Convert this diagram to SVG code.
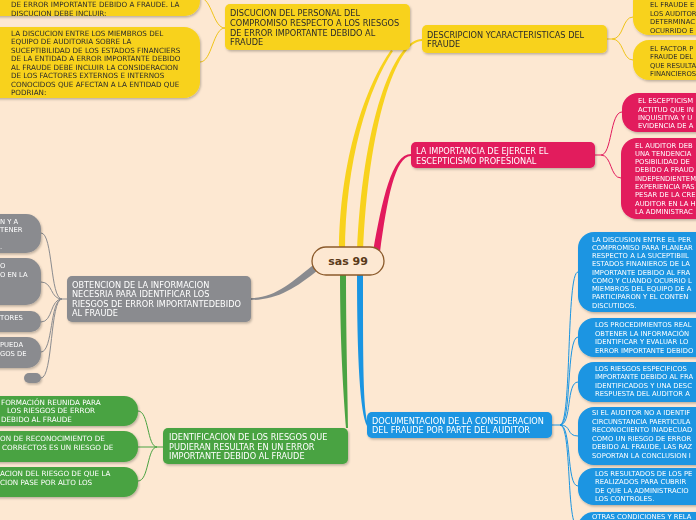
<svg xmlns="http://www.w3.org/2000/svg" width="696" height="520" viewBox="0 0 696 520">
<defs>
<filter id="sh" x="-10%" y="-10%" width="130%" height="140%"><feDropShadow dx="1" dy="1.5" stdDeviation="1" flood-color="#000" flood-opacity="0.25"/></filter>
<style>
text{font-family:"DejaVu Sans","Verdana",sans-serif;}
.m{font-size:8.2px;}
.c{font-size:6.8px;}
.c2{font-size:7.2px;}
.dk{fill:#2b2b2b;}
.wt{fill:#ffffff;}
.y{fill:#f8d21d;}
.p{fill:#e21a5d;}
.g{fill:#8a8b8f;}
.gr{fill:#4aa342;}
.b{fill:#1a95e2;}
.ly{stroke:#f0c419;fill:none;stroke-width:1;}
.lp{stroke:#e21a5d;fill:none;stroke-width:1;}
.lg{stroke:#8a8b8f;fill:none;stroke-width:1;}
.lgr{stroke:#4aa342;fill:none;stroke-width:1;}
.lb{stroke:#1a95e2;fill:none;stroke-width:1;}
</style>
</defs>
<rect width="696" height="520" fill="#fde8d2"/>

<g id="connectors">
<path class="y" d="M339,254 C339,160 366,85 391,50 L393,51 C369,87 345,160 345,254 Z"/>
<path class="y" d="M357,254 C362,125 393,39 422,39 L422,41 C396,41 368,125 363,254 Z"/>
<path class="p" d="M373,252 C382,200 392,154 411,154 L411,156 C395,156 387,200 380,252 Z"/>
<path class="g" d="M317,262 C292,282 275,298 251,298 L251,300 C277,300 296,288 318,270 Z"/>
<path class="gr" d="M340,272 C340,350 344,400 346,428 L348,428 C348,400 346,350 346,272 Z"/>
<path class="b" d="M357,272 C357,360 360,412 367,426 L368,424 C363,410 363,360 363,272 Z"/>
<path class="ly" d="M225,28 C213,28 212,62 200,62"/>
<path class="ly" d="M225,28 C213,28 212,-2 200,-2"/>
<path class="ly" d="M607,39 L612,39 C624,39 622,17 633,17"/>
<path class="ly" d="M612,39 C624,39 622,60 633,60"/>
<path class="lp" d="M595,155 L601,155 C612,155 610,112 622,112"/>
<path class="lp" d="M601,155 C612,155 610,178 621,178"/>
<path class="lg" d="M67,299 L62,299 C50,299 53,233 41,233"/>
<path class="lg" d="M62,299 C50,299 53,282 41,282"/>
<path class="lg" d="M62,299 C50,299 53,322 41,322"/>
<path class="lg" d="M62,299 C50,299 53,352 41,352"/>
<path class="lg" d="M62,299 C50,299 53,378 41,378"/>
<path class="lgr" d="M163,447 L157,447 C147,447 149,411 138,411"/>
<path class="lgr" d="M157,447 L138,447"/>
<path class="lgr" d="M157,447 C147,447 149,481 138,481"/>
<path class="lb" d="M552,425 L560,425 C572,425 566,272 578,272"/>
<path class="lb" d="M560,425 C572,425 566,337 578,337"/>
<path class="lb" d="M560,425 C572,425 566,382 578,382"/>
<path class="lb" d="M560,425 C572,425 566,436 578,436"/>
<path class="lb" d="M560,425 C572,425 566,486 578,486"/>
<path class="lb" d="M560,425 C572,425 566,527 578,527"/>
</g>

<g id="central">
<rect x="312" y="247" width="72" height="28" rx="14" fill="#fde8d2" stroke="#8b5a2b" stroke-width="1.3"/>
<text x="348" y="265" text-anchor="middle" font-size="11" font-weight="bold" fill="#5a3a1a">sas 99</text>
</g>

<g id="n-discucion" filter="url(#sh)">
<rect class="y" x="225" y="4" width="185" height="46" rx="5"/>
<text class="m dk"><tspan x="230" y="16.3">DISCUCION DEL PERSONAL DEL</tspan><tspan x="230" y="26">COMPROMISO RESPECTO A LOS RIESGOS</tspan><tspan x="230" y="35.7">DE ERROR IMPORTANTE DEBIDO AL</tspan><tspan x="230" y="45.3">FRAUDE</tspan></text>
</g>
<g id="n-disc-1" filter="url(#sh)">
<rect class="y" x="-20" y="-20" width="220" height="36" rx="15"/>
<text class="c2 dk"><tspan x="11" y="7">DE ERROR IMPORTANTE DEBIDO A FRAUDE. LA</tspan><tspan x="11" y="15.5">DISCUCION DEBE INCLUIR:</tspan></text>
</g>
<g id="n-disc-2" filter="url(#sh)">
<rect class="y" x="-20" y="27" width="220" height="71" rx="16"/>
<text class="c2 dk"><tspan x="11" y="35.8">LA DISCUCION ENTRE LOS MIEMBROS DEL</tspan><tspan x="11" y="44.3">EQUIPO DE AUDITORIA SOBRE LA</tspan><tspan x="11" y="52.8">SUCEPTIBILIDAD DE LOS ESTADOS FINANCIERS</tspan><tspan x="11" y="61.3">DE LA ENTIDAD A ERROR IMPORTANTE DEBIDO</tspan><tspan x="11" y="69.8">AL  FRAUDE DEBE INCLUIR LA CONSIDERACION</tspan><tspan x="11" y="78.3">DE LOS FACTORES EXTERNOS E INTERNOS</tspan><tspan x="11" y="86.8">CONOCIDOS QUE AFECTAN A LA ENTIDAD  QUE</tspan><tspan x="11" y="95.3">PODRIAN:</tspan></text>
</g>

<g id="n-descripcion" filter="url(#sh)">
<rect class="y" x="422" y="25" width="185" height="28" rx="5"/>
<text class="m dk"><tspan x="427" y="38">DESCRIPCION YCARACTERISTICAS DEL</tspan><tspan x="427" y="47.3">FRAUDE</tspan></text>
</g>
<g id="n-desc-1" filter="url(#sh)">
<rect class="y" x="633" y="-15" width="120" height="50" rx="16"/>
<text class="c dk"><tspan x="650" y="7">EL FRAUDE E</tspan><tspan x="650" y="15.5">LOS AUDITOR</tspan><tspan x="650" y="24">DETERMINAC</tspan><tspan x="650" y="32.5">OCURRIDO E</tspan></text>
</g>
<g id="n-desc-2" filter="url(#sh)">
<rect class="y" x="633" y="40" width="120" height="40" rx="16"/>
<text class="c dk"><tspan x="650" y="50.8">EL FACTOR P</tspan><tspan x="650" y="59.2">FRAUDE DEL</tspan><tspan x="650" y="67.6">QUE RESULTA</tspan><tspan x="650" y="76">FINANCIEROS</tspan></text>
</g>

<g id="n-escepticismo" filter="url(#sh)">
<rect class="p" x="411" y="142" width="184" height="26" rx="5"/>
<text class="m wt"><tspan x="416" y="154">LA IMPORTANCIA DE EJERCER EL</tspan><tspan x="416" y="164">ESCEPTICISMO PROFESIONAL</tspan></text>
</g>
<g id="n-esc-1" filter="url(#sh)">
<rect class="p" x="622" y="93" width="100" height="39" rx="16"/>
<text class="c wt"><tspan x="638" y="103.2">EL ESCEPTICISM</tspan><tspan x="638" y="111.5">ACTITUD QUE IN</tspan><tspan x="638" y="119.8">INQUISITIVA Y U</tspan><tspan x="638" y="128.2">EVIDENCIA DE A</tspan></text>
</g>
<g id="n-esc-2" filter="url(#sh)">
<rect class="p" x="621" y="138" width="100" height="81" rx="16"/>
<text class="c wt"><tspan x="635" y="147.5">EL AUDITOR DEB</tspan><tspan x="635" y="155.8">UNA TENDENCIA</tspan><tspan x="635" y="164.1">POSIBILIDAD DE</tspan><tspan x="635" y="172.4">DEBIDO A FRAUD</tspan><tspan x="635" y="180.7">INDEPENDIENTEM</tspan><tspan x="635" y="189">EXPERIENCIA PAS</tspan><tspan x="635" y="197.3">PESAR DE LA CRE</tspan><tspan x="635" y="205.6">AUDITOR EN LA H</tspan><tspan x="635" y="213.9">LA ADMINISTRAC</tspan></text>
</g>

<g id="n-obtencion" filter="url(#sh)">
<rect class="g" x="67" y="276" width="184" height="46" rx="5"/>
<text class="m wt"><tspan x="72" y="288">OBTENCION DE LA INFORMACION</tspan><tspan x="72" y="297.4">NECESRIA PARA IDENTIFICAR LOS</tspan><tspan x="72" y="306.8">RIESGOS DE ERROR IMPORTANTEDEBIDO</tspan><tspan x="72" y="316.2">AL FRAUDE</tspan></text>
</g>
<g id="n-obt-1" filter="url(#sh)">
<rect class="g" x="-20" y="214" width="61" height="39" rx="15"/>
<text class="c wt"><tspan x="0" y="223.5">N Y A</tspan><tspan x="0" y="232">TENER</tspan><tspan x="0" y="249">.</tspan></text>
</g>
<g id="n-obt-2" filter="url(#sh)">
<rect class="g" x="-20" y="258" width="61" height="47" rx="15"/>
<text class="c wt"><tspan x="0" y="267.5">O</tspan><tspan x="0" y="276.5">O EN LA</tspan></text>
</g>
<g id="n-obt-3" filter="url(#sh)">
<rect class="g" x="-20" y="311" width="61" height="21" rx="10"/>
<text class="c wt" x="0" y="320">TORES</text>
</g>
<g id="n-obt-4" filter="url(#sh)">
<rect class="g" x="-20" y="337" width="61" height="31" rx="14"/>
<text class="c wt"><tspan x="0" y="346.5">PUEDA</tspan><tspan x="0" y="355.5">GOS DE</tspan></text>
</g>
<g id="n-obt-5" filter="url(#sh)">
<rect class="g" x="24" y="373" width="17" height="10" rx="5"/>
</g>

<g id="n-identificacion" filter="url(#sh)">
<rect class="gr" x="163" y="428" width="185" height="36" rx="5"/>
<text class="m wt"><tspan x="169" y="440.3">IDENTIFICACION DE LOS RIESGOS QUE</tspan><tspan x="169" y="449.7">PUDIERAN RESULTAR EN UN ERROR</tspan><tspan x="169" y="459">IMPORTANTE DEBIDO AL FRAUDE</tspan></text>
</g>
<g id="n-ide-1" filter="url(#sh)">
<rect class="gr" x="-20" y="396" width="158" height="30" rx="14"/>
<text class="c2 wt"><tspan x="1" y="404.5">FORMACIÓN REUNIDA PARA</tspan><tspan x="7" y="413">LOS RIESGOS DE ERROR</tspan><tspan x="1" y="421.5">DEBIDO AL FRAUDE</tspan></text>
</g>
<g id="n-ide-2" filter="url(#sh)">
<rect class="gr" x="-20" y="431" width="158" height="31" rx="14"/>
<text class="c2 wt"><tspan x="0" y="440.5">ON DE RECONOCIMIENTO DE</tspan><tspan x="2" y="449.5">CORRECTOS ES UN RIESGO DE</tspan></text>
</g>
<g id="n-ide-3" filter="url(#sh)">
<rect class="gr" x="-20" y="467" width="158" height="30" rx="14"/>
<text class="c2 wt"><tspan x="0" y="475.5">ACION DEL RIESGO DE QUE LA</tspan><tspan x="0" y="484.5">CION PASE POR ALTO LOS</tspan></text>
</g>

<g id="n-documentacion" filter="url(#sh)">
<rect class="b" x="367" y="412" width="185" height="26" rx="5"/>
<text class="m wt"><tspan x="372" y="424">DOCUMENTACION DE LA CONSIDERACION</tspan><tspan x="372" y="433.3">DEL FRAUDE POR PARTE DEL AUDITOR</tspan></text>
</g>
<g id="n-doc-1" filter="url(#sh)">
<rect class="b" x="578" y="232" width="140" height="80" rx="16"/>
<text class="c wt"><tspan x="592" y="241.5">LA DISCUSION ENTRE EL PER</tspan><tspan x="592" y="249.7">COMPROMISO PARA PLANEAR</tspan><tspan x="592" y="258">RESPECTO A LA SUCEPTIBIIL</tspan><tspan x="592" y="266.2">ESTADOS FINANIEROS DE LA</tspan><tspan x="592" y="274.5">IMPORTANTE DEBIDO AL FRA</tspan><tspan x="592" y="282.7">COMO Y CUANDO OCURRIO L</tspan><tspan x="592" y="291">MIEMBROS DEL EQUIPO DE A</tspan><tspan x="592" y="299.2">PARTICIPARON  Y EL CONTEN</tspan><tspan x="592" y="307.5">DISCUTIDOS.</tspan></text>
</g>
<g id="n-doc-2" filter="url(#sh)">
<rect class="b" x="578" y="318" width="140" height="39" rx="16"/>
<text class="c wt"><tspan x="595" y="326.8">LOS PROCEDIMIENTOS REAL</tspan><tspan x="595" y="335.6">OBTENER LA INFORMACIÓN</tspan><tspan x="595" y="344.4">IDENTIFICAR Y EVALUAR LO</tspan><tspan x="595" y="353.2">ERROR IMPORTANTE DEBIDO</tspan></text>
</g>
<g id="n-doc-3" filter="url(#sh)">
<rect class="b" x="578" y="362" width="140" height="40" rx="16"/>
<text class="c wt"><tspan x="595" y="370.8">LOS RIESGOS ESPECIFICOS</tspan><tspan x="595" y="379.2">IMPORTANTE DEBIDO AL FRA</tspan><tspan x="595" y="387.6">IDENTIFICADOS Y UNA DESC</tspan><tspan x="595" y="396">RESPUESTA DEL AUDITOR A</tspan></text>
</g>
<g id="n-doc-4" filter="url(#sh)">
<rect class="b" x="578" y="407" width="140" height="58" rx="16"/>
<text class="c wt"><tspan x="592" y="415.2">SI EL AUDITOR NO A IDENTIF</tspan><tspan x="592" y="423.7">CIRCUNSTANCIA PAERTICULA</tspan><tspan x="592" y="432.2">RECONOCIIENTO INADECUAD</tspan><tspan x="592" y="440.7">COMO UN RIESGO DE ERROR</tspan><tspan x="592" y="449.2">DEBIDO AL FRAUDE, LAS RAZ</tspan><tspan x="592" y="457.7">SOPORTAN LA CONCLUSION I</tspan></text>
</g>
<g id="n-doc-5" filter="url(#sh)">
<rect class="b" x="578" y="468" width="140" height="37" rx="16"/>
<text class="c wt"><tspan x="595" y="475.8">LOS RESULTADOS DE LOS PE</tspan><tspan x="595" y="484.3">REALIZADOS  PARA CUBRIR</tspan><tspan x="595" y="492.8">DE QUE LA ADMINISTRACIO</tspan><tspan x="595" y="501.3">LOS CONTROLES.</tspan></text>
</g>
<g id="n-doc-6" filter="url(#sh)">
<rect class="b" x="578" y="512" width="140" height="30" rx="16"/>
<text class="c wt" x="592" y="519">OTRAS CONDICIONES Y RELA</text>
</g>
</svg>
